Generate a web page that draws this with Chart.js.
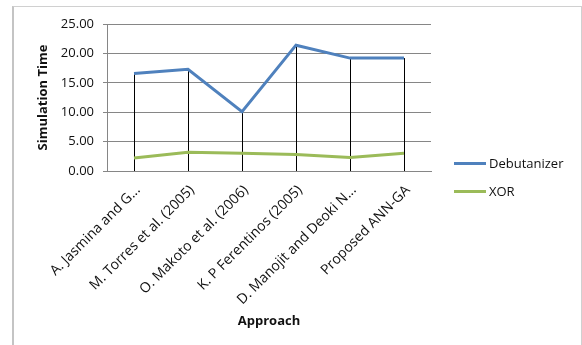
<!DOCTYPE html>
<html>
<head>
<meta charset="utf-8">
<script src="https://cdn.jsdelivr.net/npm/chart.js@4"></script>
<style>
html,body{margin:0;padding:0;background:#fff;}
#wrap{position:relative;width:582px;height:345px;overflow:hidden;}
#frame{position:absolute;left:12px;top:6px;width:567px;height:360px;border:1px solid #d0d0d0;border-left:2px solid #c4c4c4;pointer-events:none;}
canvas{position:absolute;left:0;top:0;}
#legend{position:absolute;left:454px;top:149px;font-family:"Open Sans",sans-serif;font-size:13px;color:#111;}
.li{display:flex;align-items:center;height:28px;}
.sw{width:32px;height:3px;margin-right:3px;}
</style>
</head>
<body>
<div id="wrap">
<canvas id="c" width="582" height="345"></canvas>
<div id="frame"></div>
<div id="legend"></div>
</div>
<script>
const categories = ["A. Jasmina and G...", "M. Torres et al. (2005)", "O. Makoto et al. (2006)", "K. P Ferentinos (2005)", "D. Manojit and Deoki N...", "Proposed ANN-GA"];
const debutanizer = [16.6, 17.3, 10.1, 21.4, 19.2, 19.2];
const xor = [2.2, 3.2, 3.0, 2.8, 2.3, 3.0];
const yTicks = [0, 5, 10, 15, 20, 25];
const seriesNames = ["Debutanizer", "XOR"];
const seriesColors = ["#4F81BD", "#9BBB59"];

const dropLines = {
  id: 'dropLines',
  beforeDatasetsDraw(chart) {
    const ctx = chart.ctx;
    const bottom = chart.chartArea.bottom;
    const metas = chart.data.datasets.map((d, i) => chart.getDatasetMeta(i));
    ctx.save();
    ctx.strokeStyle = '#000';
    ctx.lineWidth = 1;
    categories.forEach((c, i) => {
      let top = Infinity, x = null;
      metas.forEach(m => { const p = m.data[i]; if (p) { top = Math.min(top, p.y); x = p.x; } });
      if (x === null) return;
      const xx = Math.round(x) + 0.5;
      ctx.beginPath();
      ctx.moveTo(xx, top);
      ctx.lineTo(xx, bottom);
      ctx.stroke();
    });
    ctx.restore();
  }
};

const font = { family: '"Open Sans", sans-serif', size: 13 };

new Chart(document.getElementById('c'), {
  type: 'line',
  data: {
    labels: categories,
    datasets: [
      { label: seriesNames[0], data: debutanizer, borderColor: seriesColors[0], backgroundColor: seriesColors[0], borderWidth: 3, pointRadius: 0, tension: 0 },
      { label: seriesNames[1], data: xor, borderColor: seriesColors[1], backgroundColor: seriesColors[1], borderWidth: 3, pointRadius: 0, tension: 0 }
    ]
  },
  options: {
    responsive: false,
    animation: false,
    devicePixelRatio: 1,
    layout: { padding: { left: 30, top: 24, right: 151, bottom: 16 } },
    plugins: { legend: { display: false }, tooltip: { enabled: false } },
    scales: {
      x: {
        offset: true,
        grid: { display: false, drawTicks: false },
        border: { display: true, color: '#868686', width: 1 },
        ticks: { autoSkip: false, minRotation: 45, maxRotation: 45, color: '#111', font: { family: font.family, size: 14 }, padding: 11, labelOffset: 4 },
        title: { display: true, text: 'Approach', color: '#111', font: { family: font.family, size: 13, weight: 'bold' }, padding: 0 },
        afterFit(s) { s.height = 158; }
      },
      y: {
        min: 0, max: 25,
        afterBuildTicks(s) { s.ticks = yTicks.map(v => ({ value: v })); },
        grid: { color: '#868686', lineWidth: 1, tickLength: 4, drawTicks: true },
        border: { display: true, color: '#868686', width: 1 },
        ticks: { color: '#111', font: font, padding: 9, callback: v => Number(v).toFixed(2) },
        title: { display: true, text: 'Simulation Time', color: '#111', font: { family: font.family, size: 13, weight: 'bold' }, padding: { top: 5, bottom: 0 } },
        afterFit(s) { s.width = 77; }
      }
    }
  },
  plugins: [dropLines]
});

const lg = document.getElementById('legend');
seriesNames.forEach((n, i) => {
  const row = document.createElement('div'); row.className = 'li';
  const sw = document.createElement('span'); sw.className = 'sw'; sw.style.background = seriesColors[i];
  const t = document.createElement('span'); t.textContent = n;
  row.appendChild(sw); row.appendChild(t); lg.appendChild(row);
});
</script>
</body>
</html>
